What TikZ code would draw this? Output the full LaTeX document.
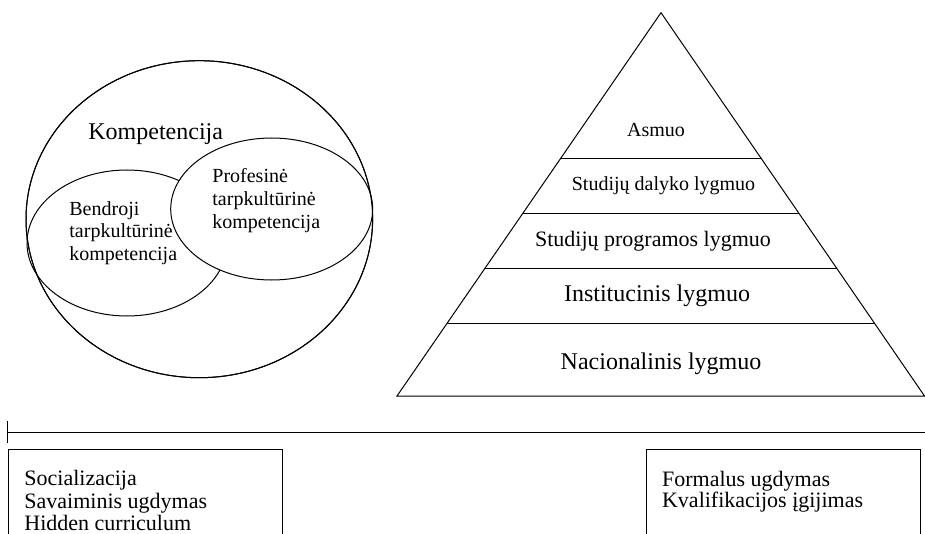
\documentclass[tikz,border=0pt]{standalone}
\usepackage{fontspec}
\setmainfont{Liberation Serif}
\usetikzlibrary{shapes.geometric,calc}
\tikzset{
  ln/.style={line width=0.5pt},
  oval/.style={ellipse, draw, ln, inner sep=0pt},
  txt/.style={inner sep=0pt, anchor=base west},
  ctxt/.style={inner sep=0pt, anchor=base},
  fa/.style={font=\fontsize{10}{12}\selectfont},
  fb/.style={font=\fontsize{11}{13}\selectfont},
  fc/.style={font=\fontsize{12}{14}\selectfont},
}
\begin{document}
\begin{tikzpicture}[x=0.5pt,y=-0.5pt]
\useasboundingbox (0,0) rectangle (925,534);
% Venn-like diagram
\node[oval, minimum width=173.3pt, minimum height=158.5pt] (outer) at (199.3,219.2) {};
\node[oval, minimum width=100pt, minimum height=73pt] (gen) at (127,243) {};
\node[oval, fill=white, minimum width=101pt, minimum height=71pt] (prof) at (271.7,209) {};
\node[oval, minimum width=173.3pt, minimum height=158.5pt] at (199.3,219.2) {};
\node[txt, fc] (komp) at (88,140) {Kompetencija};
\node[txt, fa] (g1) at (69,215) {Bendroji};
\node[txt, fa] (g2) at (69,237.5) {tarpkultūrinė};
\node[txt, fa] (g3) at (69,260) {kompetencija};
\node[txt, fa] (p1) at (212,183) {Profesinė};
\node[txt, fa] (p2) at (212,205.5) {tarpkultūrinė};
\node[txt, fa] (p3) at (212,228) {kompetencija};
% Pyramid
\coordinate (apex) at (661,12.7);
\coordinate (bl) at (397,396);
\coordinate (br) at (924.5,396);
\draw[ln, line join=miter] (apex) -- (bl) -- (br) -- cycle;
\foreach \t/\n in {0.3809/a,0.5226/b,0.6661/c,0.8096/d}{
  \draw[ln] ($(apex)!\t!(bl)$) -- ($(apex)!\t!(br)$);
}
\node[ctxt, fa] (asm) at (656,137) {Asmuo};
\node[ctxt, fa] (sdl) at (663.5,190.7) {Studijų dalyko lygmuo};
\node[ctxt, fb] (spl) at (653,246.7) {Studijų programos lygmuo};
\node[ctxt, fc] (inl) at (657,301.7) {Institucinis lygmuo};
\node[ctxt, fc] (nal) at (661,369) {Nacionalinis lygmuo};
% Axis line
\coordinate (axl) at (7,432.3);
\coordinate (axr) at (925,432.3);
\draw[ln] (axl) -- (axr);
\draw[ln] (7,421) -- (7,443);
% Boxes
\draw[ln] (8.3,534) -- (8.3,449.3) -- (282.7,449.3) -- (282.7,534);
\draw[ln] (646,534) -- (646,449.3) -- (920,449.3) -- (920,534);
\node[txt, fb] (s1) at (24,485.7) {Socializacija};
\node[txt, fb] (s2) at (24,508.3) {Savaiminis ugdymas};
\node[txt, fb] (s3) at (24,530) {Hidden curriculum};
\node[txt, fb] (f1) at (661.7,486.7) {Formalus ugdymas};
\node[txt, fb] (f2) at (661.7,507.5) {Kvalifikacijos įgijimas};
\end{tikzpicture}
\end{document}
